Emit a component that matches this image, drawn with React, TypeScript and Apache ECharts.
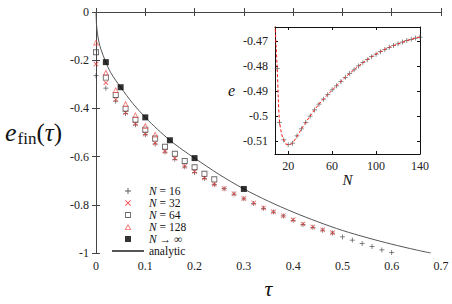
import React, { useEffect, useRef } from 'react';
import * as echarts from 'echarts';

// ---- main plot data ----
const tau16 = [0, 0.02, 0.04, 0.06, 0.08, 0.1, 0.12, 0.14, 0.16, 0.18, 0.2, 0.22, 0.24, 0.26, 0.28, 0.3, 0.32, 0.34, 0.36, 0.38, 0.4, 0.42, 0.44, 0.46, 0.48, 0.5, 0.52, 0.54, 0.56, 0.58, 0.6];
const e16 = [-0.264, -0.316, -0.37, -0.421, -0.468, -0.509, -0.547, -0.581, -0.611, -0.642, -0.666, -0.69, -0.715, -0.733, -0.755, -0.775, -0.794, -0.814, -0.83, -0.846, -0.864, -0.881, -0.893, -0.905, -0.917, -0.933, -0.946, -0.96, -0.973, -0.987, -0.997];

const tau32 = [0, 0.02, 0.04, 0.06, 0.08, 0.1, 0.12, 0.14, 0.16, 0.18, 0.2, 0.22, 0.24, 0.26, 0.28, 0.3, 0.32, 0.34, 0.36, 0.38, 0.4, 0.42, 0.44, 0.46, 0.48];
const e32 = [-0.216, -0.293, -0.363, -0.417, -0.464, -0.506, -0.543, -0.578, -0.607, -0.64, -0.662, -0.688, -0.714, -0.732, -0.754, -0.774, -0.792, -0.813, -0.829, -0.845, -0.862, -0.879, -0.892, -0.903, -0.916];

const tau64 = [0, 0.02, 0.04, 0.06, 0.08, 0.1, 0.12, 0.14, 0.16, 0.18, 0.2, 0.22, 0.24];
const e64 = [-0.167, -0.272, -0.344, -0.401, -0.447, -0.488, -0.525, -0.559, -0.588, -0.618, -0.644, -0.671, -0.694];

const tau128 = [0, 0.02, 0.04, 0.06, 0.08, 0.1, 0.12];
const e128 = [-0.126, -0.251, -0.323, -0.381, -0.427, -0.472, -0.508];

const tauInf = [0.02, 0.05, 0.1, 0.15, 0.2, 0.3];
const eInf = [-0.208, -0.312, -0.437, -0.532, -0.606, -0.734];

const tauAnalytic = [0, 0.001, 0.003, 0.006, 0.01, 0.02, 0.03, 0.05, 0.075, 0.1, 0.125, 0.15, 0.175, 0.2, 0.25, 0.3, 0.35, 0.4, 0.45, 0.5, 0.55, 0.6, 0.65, 0.68];
const eAnalytic = [0, -0.05, -0.09, -0.125, -0.155, -0.208, -0.252, -0.312, -0.38, -0.437, -0.487, -0.532, -0.571, -0.606, -0.674, -0.734, -0.785, -0.83, -0.87, -0.906, -0.936, -0.963, -0.987, -1.0];

// ---- inset data ----
const insetN = [10, 12, 16, 20, 24, 28, 32, 36, 40, 44, 48, 52, 56, 60, 64, 68, 72, 76, 80, 84, 88, 92, 96, 100, 104, 108, 112, 116, 120, 124, 128, 132, 136, 140];
const insetE = [-0.481, -0.5025, -0.5094, -0.5113, -0.5107, -0.5078, -0.505, -0.5024, -0.4999, -0.4975, -0.4952, -0.4932, -0.4914, -0.4895, -0.4879, -0.4862, -0.4845, -0.483, -0.4815, -0.48, -0.4787, -0.4775, -0.4763, -0.4753, -0.4743, -0.4734, -0.4726, -0.4719, -0.4712, -0.4705, -0.4699, -0.4694, -0.4689, -0.4685];
const fitN = [8, 9, 10, 11, 12, 14, 16, 18, 20, 22, 24, 28, 32, 40, 48, 56, 64, 72, 80, 88, 96, 104, 112, 120, 128, 136, 140];
const fitE = [-0.4635, -0.472, -0.481, -0.4925, -0.5015, -0.507, -0.5095, -0.511, -0.5113, -0.5112, -0.5106, -0.508, -0.5051, -0.4999, -0.4952, -0.4914, -0.4879, -0.4845, -0.4815, -0.4787, -0.4763, -0.4743, -0.4726, -0.4712, -0.4699, -0.4689, -0.4685];

const mainXTicks = { min: 0, max: 0.7, interval: 0.1 };
const mainYTicks = { min: -1, max: 0, interval: 0.2 };
const insetXTicks = [20, 60, 100, 140];
const insetYTicks = [-0.51, -0.5, -0.49, -0.48, -0.47];
const legendNames = ['N = 16', 'N = 32', 'N = 64', 'N = 128', 'N → ∞', 'analytic'];

const FONT = 'Liberation Serif, DejaVu Serif, serif';
const PLUS = 'path://M4.25,0H5.75V10H4.25Z M0,4.25H10V5.75H0Z';
const CROSS = 'path://M0,1.1L1.1,0L10,8.9L8.9,10Z M8.9,0L10,1.1L1.1,10L0,8.9Z';
const SQUARE_OPEN = 'path://M0,0H10V10H0Z M1.5,1.5V8.5H8.5V1.5Z';
const TRI_OPEN = 'path://M5,0L10,9L0,9Z M5,2.8L2.0,7.8H8.0Z';
const SQUARE_FILLED = 'path://M0,0H10V10H0Z';

const zip = (a: number[], b: number[]) => a.map((v, i) => [v, b[i]]);

export default function App() {
  const ref = useRef<HTMLDivElement>(null);
  useEffect(() => {
    if (!ref.current) return;
    const chart = echarts.init(ref.current, undefined, { renderer: 'svg' });
    const mainLine = { show: true, lineStyle: { color: '#444', width: 1 } };
    const insetLine = { show: true, lineStyle: { color: '#111', width: 1 } };
    const labelStyle = { fontFamily: FONT, fontSize: 12, color: '#222' };
    const insetLabel = { fontFamily: FONT, fontSize: 12, color: '#222' };
    const LH = 10.6;
    const legendRich = {
      i: { fontFamily: FONT, fontStyle: 'italic', fontSize: 11.5, color: '#111', lineHeight: LH },
      r: { fontFamily: FONT, fontSize: 11.5, color: '#111', lineHeight: LH },
    };
    chart.setOption({
      animation: false,
      backgroundColor: '#fff',
      textStyle: { fontFamily: FONT },
      grid: [
        { left: 96, top: 12, width: 345, height: 247, show: false },
        { left: 275, top: 27, width: 145, height: 127, show: true, backgroundColor: '#fff', borderWidth: 0, z: 5 },
      ],
      xAxis: [
        {
          gridIndex: 0, type: 'value', position: 'bottom', ...mainXTicks,
          axisLine: mainLine, axisTick: { inside: true, length: 4, lineStyle: { color: '#444' } },
          axisLabel: { ...labelStyle, margin: 7 }, splitLine: { show: false },
          name: 'τ', nameLocation: 'middle', nameGap: 16,
          nameTextStyle: { fontFamily: FONT, fontStyle: 'italic', fontSize: 22, color: '#111' },
        },
        {
          gridIndex: 0, type: 'value', position: 'top', ...mainXTicks,
          axisLine: mainLine, axisTick: { inside: true, length: 4, lineStyle: { color: '#444' } },
          axisLabel: { show: false }, splitLine: { show: false },
        },
        {
          gridIndex: 1, type: 'value', position: 'bottom', min: 8, max: 140,
          axisLine: insetLine,
          axisTick: { inside: true, length: 3, customValues: insetXTicks, lineStyle: { color: '#111' } },
          axisLabel: { ...insetLabel, margin: 6, customValues: insetXTicks }, splitLine: { show: false },
          name: 'N', nameLocation: 'middle', nameGap: 18,
          nameTextStyle: { fontFamily: FONT, fontStyle: 'italic', fontSize: 15, color: '#111' },
          z: 6,
        },
        {
          gridIndex: 1, type: 'value', position: 'top', min: 8, max: 140,
          axisLine: insetLine,
          axisTick: { inside: true, length: 3, customValues: insetXTicks, lineStyle: { color: '#111' } },
          axisLabel: { show: false }, splitLine: { show: false }, z: 6,
        },
      ],
      yAxis: [
        {
          gridIndex: 0, type: 'value', position: 'left', ...mainYTicks,
          axisLine: mainLine, axisTick: { inside: true, length: 4, lineStyle: { color: '#444' } },
          axisLabel: { ...labelStyle, margin: 7 }, splitLine: { show: false },
          name: '{e|e}{s|fin}{p|(}{t|τ}{p|)}', nameLocation: 'middle', nameRotate: 0, nameGap: 34,
          nameTextStyle: {
            fontFamily: FONT, fontSize: 24, color: '#111',
            rich: {
              e: { fontFamily: FONT, fontStyle: 'italic', fontSize: 26, color: '#111' },
              s: { fontFamily: FONT, fontSize: 17, color: '#111', padding: [12, 0, 0, 1] },
              p: { fontFamily: FONT, fontSize: 25, color: '#111' },
              t: { fontFamily: FONT, fontStyle: 'italic', fontSize: 25, color: '#111' },
            },
          },
        },
        {
          gridIndex: 0, type: 'value', position: 'right', ...mainYTicks,
          axisLine: mainLine, axisTick: { inside: true, length: 4, lineStyle: { color: '#444' } },
          axisLabel: { show: false }, splitLine: { show: false },
        },
        {
          gridIndex: 1, type: 'value', position: 'left', min: -0.515, max: -0.4645,
          axisLine: insetLine,
          axisTick: { inside: true, length: 3, customValues: insetYTicks, lineStyle: { color: '#111' } },
          axisLabel: { ...insetLabel, margin: 7, customValues: insetYTicks, formatter: (v: number) => String(v) },
          splitLine: { show: false },
          name: 'e', nameLocation: 'middle', nameRotate: 0, nameGap: 40,
          nameTextStyle: { fontFamily: FONT, fontStyle: 'italic', fontSize: 16, color: '#111' },
          z: 6,
        },
        {
          gridIndex: 1, type: 'value', position: 'right', min: -0.515, max: -0.4645,
          axisLine: insetLine,
          axisTick: { inside: true, length: 3, customValues: insetYTicks, lineStyle: { color: '#111' } },
          axisLabel: { show: false }, splitLine: { show: false }, z: 6,
        },
      ],
      legend: {
        orient: 'vertical', left: 106, top: 180, padding: 5,
        itemWidth: 32, itemHeight: 6, itemGap: 0,
        selectedMode: false,
        data: legendNames.map((n) =>
          n === 'analytic' ? { name: n, itemStyle: { color: 'rgba(0,0,0,0)', borderWidth: 0 } } : { name: n }
        ),
        formatter: (name: string) =>
          name.startsWith('N') ? '{i|N}{r|' + name.slice(1) + '}' : '{r|' + name + '}',
        textStyle: { fontFamily: FONT, fontSize: 11.5, color: '#111', lineHeight: LH, rich: legendRich },
      },
      series: [
        { name: 'N = 16', type: 'scatter', xAxisIndex: 0, yAxisIndex: 0, symbol: PLUS, symbolSize: 5, itemStyle: { color: '#333' }, data: zip(tau16, e16) },
        { name: 'N = 32', type: 'scatter', xAxisIndex: 0, yAxisIndex: 0, symbol: CROSS, symbolSize: 5, itemStyle: { color: '#ee2a2a' }, data: zip(tau32, e32) },
        { name: 'N = 64', type: 'scatter', xAxisIndex: 0, yAxisIndex: 0, symbol: SQUARE_OPEN, symbolSize: 6, itemStyle: { color: '#444' }, data: zip(tau64, e64) },
        { name: 'N = 128', type: 'scatter', xAxisIndex: 0, yAxisIndex: 0, symbol: TRI_OPEN, symbolSize: 6, itemStyle: { color: '#f04a4a' }, data: zip(tau128, e128) },
        { name: 'N → ∞', type: 'scatter', xAxisIndex: 0, yAxisIndex: 0, symbol: SQUARE_FILLED, symbolSize: 6, itemStyle: { color: '#000' }, z: 4, data: zip(tauInf, eInf) },
        { name: 'analytic', type: 'line', xAxisIndex: 0, yAxisIndex: 0, symbol: 'none', showSymbol: false, smooth: 0.3, lineStyle: { color: '#555', width: 1 }, itemStyle: { color: '#555' }, z: 3, data: zip(tauAnalytic, eAnalytic) },
        { name: 'inset data', type: 'scatter', xAxisIndex: 2, yAxisIndex: 2, symbol: PLUS, symbolSize: 5, itemStyle: { color: '#444' }, z: 7, data: zip(insetN, insetE) },
        { name: 'inset fit', type: 'line', xAxisIndex: 2, yAxisIndex: 2, symbol: 'none', smooth: 0.3, clip: true, lineStyle: { color: '#ff1a1a', width: 1, type: [3, 2] }, z: 8, data: zip(fitN, fitE) },
      ],
    });
    return () => chart.dispose();
  }, []);
  return <div ref={ref} style={{ position: 'fixed', left: 0, top: 0, width: 452, height: 304 }} />;
}
